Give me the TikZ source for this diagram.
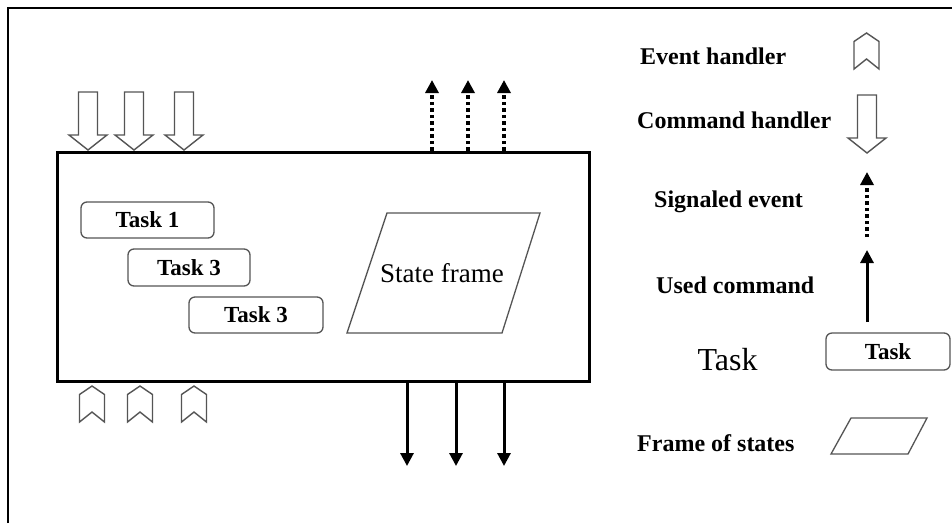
\documentclass[tikz,border=0pt]{standalone}
\usepackage{fontspec}
\setmainfont{Liberation Serif}
\usetikzlibrary{arrows.meta}
\definecolor{edgegray}{HTML}{555555}
\tikzset{
  frameline/.style={line width=2pt, black},
  modbox/.style={draw, line width=3pt, black},
  taskbox/.style={draw=edgegray, line width=1.3pt, rounded corners=6pt, font=\bfseries\fontsize{23}{26}\selectfont},
  handlerline/.style={draw=edgegray, line width=1.4pt, line join=miter},
  cmdout/.style={line width=3pt, -{Triangle[width=13pt,length=13pt]}},
  sigout/.style={line width=3.2pt, dash pattern=on 3.5pt off 3pt, -{Triangle[width=13pt,length=13pt]}},
  legend/.style={font=\bfseries\fontsize{24}{28}\selectfont, anchor=west, inner sep=0pt},
  statebox/.style={draw=edgegray, line width=1.3pt},
  cmdhandler/.pic={\draw[handlerline] (-9.5,0) -- (9.5,0) -- (9.5,43) -- (19,43) -- (0,58) -- (-19,43) -- (-9.5,43) -- cycle;},
  evthandler/.pic={\draw[handlerline] (0,0) -- (12.5,8.5) -- (12.5,36) -- (0,26) -- (-12.5,36) -- (-12.5,8.5) -- cycle;}
}
\begin{document}
\begin{tikzpicture}[x=1pt, y=-1pt]
\useasboundingbox (0,0) rectangle (952,523);
\fill[white] (0,0) rectangle (952,523);
% outer frame (left and top edges)
\draw[frameline] (8,523) -- (8,8) -- (952,8);

% component box
\node[modbox, minimum width=532pt, minimum height=229pt, inner sep=0pt] (box) at (323,266.5) {};

% tasks inside the component
\node[taskbox, minimum width=133pt, minimum height=36pt] (t1) at (147.5,220) {Task 1};
\node[taskbox, minimum width=122pt, minimum height=37pt] (t2) at (189,267.5) {Task 3};
\node[taskbox, minimum width=134pt, minimum height=36pt] (t3) at (256,315) {Task 3};

% state frame
\coordinate (sf1) at (347,333);
\coordinate (sf2) at (387,213);
\coordinate (sf3) at (540,213);
\coordinate (sf4) at (502,333);
\draw[statebox] (sf1) -- (sf2) -- (sf3) -- (sf4) -- cycle;
\node[font=\fontsize{27}{30}\selectfont] (sftext) at (442,273) {State frame};

% command handlers on top
\pic at (88,92) {cmdhandler};
\pic at (134,92) {cmdhandler};
\pic at (184,92) {cmdhandler};

% event handlers below
\pic at (92,386) {evthandler};
\pic at (140,386) {evthandler};
\pic at (194,386) {evthandler};

% signaled events
\coordinate (s1) at (432,80);
\coordinate (s2) at (468,80);
\coordinate (s3) at (504,80);
\draw[sigout] (box.north -| s1) -- (s1);
\draw[sigout] (box.north -| s2) -- (s2);
\draw[sigout] (box.north -| s3) -- (s3);

% used commands
\coordinate (c1) at (407,466);
\coordinate (c2) at (456,466);
\coordinate (c3) at (504,466);
\draw[cmdout] (box.south -| c1) -- (c1);
\draw[cmdout] (box.south -| c2) -- (c2);
\draw[cmdout] (box.south -| c3) -- (c3);

% legend
\node[legend] (l1) at (640,56) {Event handler};
\pic at (866.5,33) {evthandler};

\node[legend] (l2) at (637,120) {Command handler};
\pic at (867,95) {cmdhandler};

\node[legend] (l3) at (654,202) {Signaled event};
\coordinate (ls0) at (867,237);
\coordinate (ls1) at (867,172);
\draw[sigout] (ls0) -- (ls1);

\node[legend] (l4) at (656,285) {Used command};
\coordinate (lc0) at (867,322);
\coordinate (lc1) at (867,250);
\draw[cmdout] (lc0) -- (lc1);

\node[font=\fontsize{32}{36}\selectfont, inner sep=0pt] (l5) at (727.5,360) {Task};
\node[taskbox, minimum width=124pt, minimum height=37pt] (lt) at (888,351.5) {Task};

\node[legend] (l6) at (637,443) {Frame of states};
\coordinate (lf1) at (831,454);
\coordinate (lf2) at (851,418);
\coordinate (lf3) at (927,418);
\coordinate (lf4) at (908,454);
\draw[statebox] (lf1) -- (lf2) -- (lf3) -- (lf4) -- cycle;
\end{tikzpicture}
\end{document}
